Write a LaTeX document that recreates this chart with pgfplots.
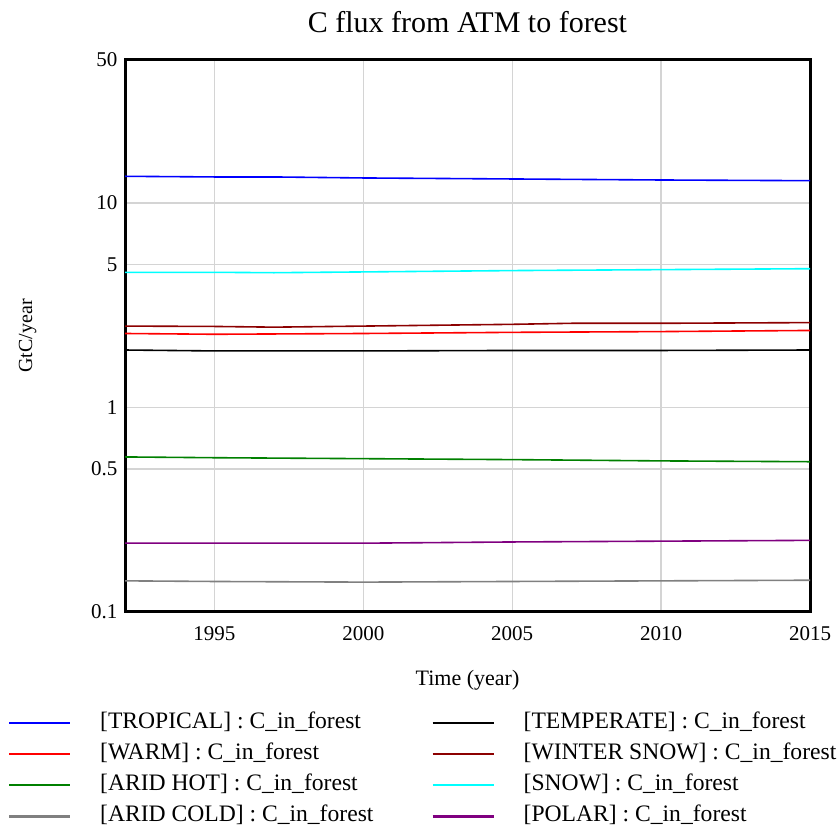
\documentclass[border=0pt]{standalone}
\usepackage{pgfplots}
\pgfplotsset{compat=1.18}
\usepackage{fontspec}
\setmainfont{Liberation Serif}
\definecolor{cblue}{RGB}{0,0,255}
\definecolor{cred}{RGB}{255,0,0}
\definecolor{cgreen}{RGB}{0,128,0}
\definecolor{cgray}{RGB}{128,128,128}
\definecolor{cdred}{RGB}{140,0,0}
\definecolor{ccyan}{RGB}{0,255,255}
\definecolor{cpurple}{RGB}{128,0,128}
\begin{document}
\begin{tikzpicture}
\path[use as bounding box] (0pt,0pt) rectangle (839pt,827pt);
\begin{axis}[
  at={(125pt,215pt)}, anchor=south west,
  scale only axis, width=685pt, height=552pt,
  ymode=log, log basis y=10,
  xmin=1992, xmax=2015, ymin=0.1, ymax=50,
  xtick={1995,2000,2005,2010,2015},
  ytick={0.1,0.5,1,5,10,50},
  yticklabels={0.1,0.5,1,5,10,50},
  minor ytick={}, 
  major tick length=0pt, minor tick length=0pt,
  grid=major,
  major grid style={line width=1.3pt, color=black!17},
  axis line style={line width=3pt},
  /pgf/number format/assume math mode=true,
  x tick label style={/pgf/number format/1000 sep={}, font=\fontsize{21}{24}\selectfont, yshift=-11pt},
  y tick label style={font=\fontsize{21}{24}\selectfont, xshift=-4pt},
  title={C flux from ATM to forest},
  title style={at={(axis description cs:0.5,1.057)}, anchor=center, font=\fontsize{30}{33}\selectfont},
  xlabel={Time (year)},
  xlabel style={at={(axis description cs:0.5,-0.1230)}, anchor=center, font=\fontsize{22}{25}\selectfont},
  ylabel={GtC/year},
  ylabel style={at={(axis description cs:-0.142,0.5)}, anchor=center, font=\fontsize{20}{23}\selectfont},
  legend columns=2,
  legend image code/.code={\draw[#1, line width=2.2pt] (0pt,0pt) -- (61pt,0pt);},
  legend style={at={(axis description cs:-0.1755,-0.1778)}, anchor=north west, draw=none, fill=none,
    font=\fontsize{23.6}{26}\selectfont,
    nodes={inner sep=0pt, anchor=west, text height=16pt, text depth=5pt},
    row sep=10.2pt,
    /tikz/every odd column/.append style={column sep=29pt},
    /tikz/every even column/.append style={column sep=58pt}},
  legend cell align=left,
  every axis plot/.append style={line width=1.6pt},
]
\addplot[cblue] coordinates {(1992,13.5) (1995,13.4) (1997,13.4) (2000,13.25) (2005,13.1) (2010,12.95) (2015,12.85)};
\addlegendentry{[TROPICAL] : C\_in\_forest}
\addplot[black] coordinates {(1992,1.91) (1995,1.89) (2000,1.89) (2005,1.90) (2010,1.90) (2015,1.91)};
\addlegendentry{[TEMPERATE] : C\_in\_forest}
\addplot[cred] coordinates {(1992,2.30) (1995,2.28) (2000,2.30) (2005,2.33) (2010,2.35) (2015,2.38)};
\addlegendentry{[WARM] : C\_in\_forest}
\addplot[cdred] coordinates {(1992,2.50) (1995,2.49) (1997,2.47) (2000,2.50) (2005,2.55) (2007,2.58) (2010,2.58) (2015,2.60)};
\addlegendentry{[WINTER SNOW] : C\_in\_forest}
\addplot[cgreen] coordinates {(1992,0.573) (1995,0.568) (2000,0.562) (2005,0.556) (2010,0.548) (2015,0.543)};
\addlegendentry{[ARID HOT] : C\_in\_forest}
\addplot[ccyan] coordinates {(1992,4.58) (1995,4.58) (1997,4.56) (2000,4.60) (2005,4.67) (2010,4.72) (2015,4.77)};
\addlegendentry{[SNOW] : C\_in\_forest}
\addplot[cgray] coordinates {(1992,0.142) (1995,0.141) (2000,0.140) (2005,0.141) (2010,0.142) (2015,0.143)};
\addlegendentry{[ARID COLD] : C\_in\_forest}
\addplot[cpurple] coordinates {(1992,0.217) (1995,0.217) (2000,0.217) (2005,0.220) (2010,0.222) (2015,0.224)};
\addlegendentry{[POLAR] : C\_in\_forest}
\end{axis}
\end{tikzpicture}
\end{document}
